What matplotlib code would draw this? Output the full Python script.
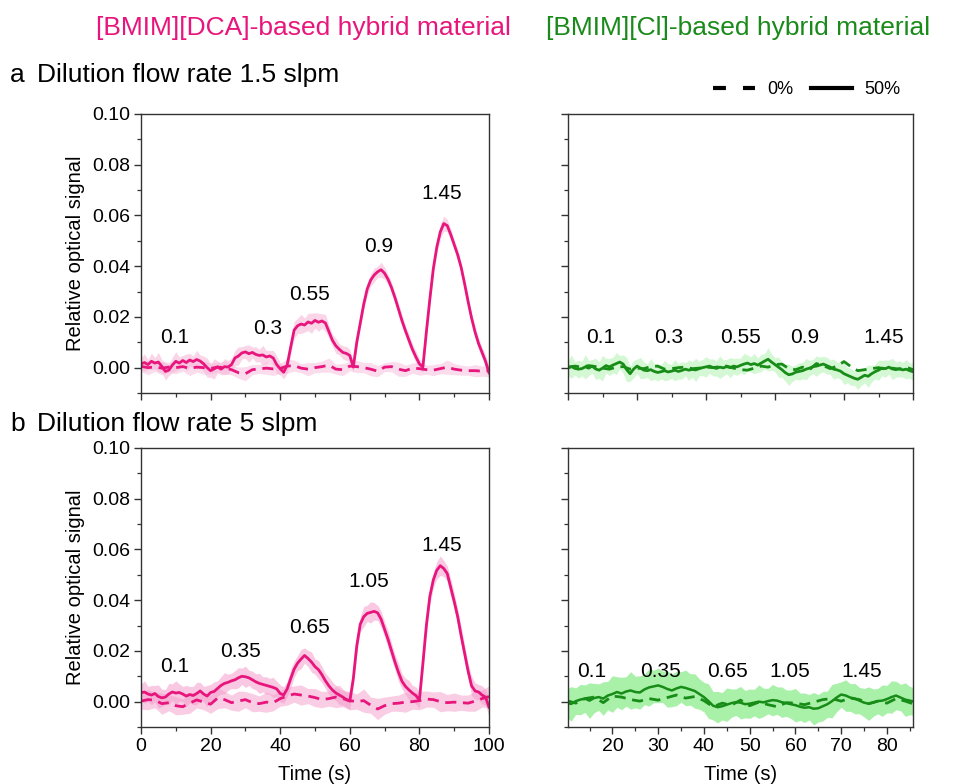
import matplotlib
matplotlib.use("Agg")
import matplotlib.pyplot as plt
from matplotlib.lines import Line2D
from matplotlib.ticker import MultipleLocator, FormatStrFormatter
import numpy as np

plt.rcParams['font.family'] = ['Liberation Sans', 'DejaVu Sans']

# signals in units of 1e-3 (relative optical signal)
# a: dilution 1.5 slpm, [BMIM][DCA], 50% humidity, t = 0..100 s every 1 s
a_dca_50 = [1.5, 2.0, 1.2, 2.5, 1.8, 2.2, 0.5, -1.5, -1.0, 1.0,
            2.5, 1.8, 2.8, 2.0, 3.0, 2.4, 3.2, 2.6, 1.5, 0.0,
            -1.2, -0.5, 0.3, -0.6, 0.4, 0.2, 1.2, 3.8, 4.6, 5.8,
            6.2, 5.5, 6.0, 5.2, 4.8, 5.0, 4.2, 4.6, 3.8, 1.2,
            -0.5, -1.8, 1.0, 8.0, 14.8, 16.5, 17.2, 16.8, 18.0, 17.5,
            18.6, 17.9, 18.4, 17.6, 14.2, 10.8, 8.6, 7.2, 6.0, 5.6,
            4.8, 0.2, 10.0, 17.5, 25.0, 31.0, 34.5, 36.5, 37.8, 38.6,
            37.2, 34.8, 31.5, 27.5, 23.0, 18.5, 14.5, 10.8, 7.2, 4.2,
            1.5, 0.2, 14.0, 27.0, 39.0, 47.5, 53.5, 56.8, 56.0, 52.5,
            48.5, 44.5, 39.5, 33.0, 26.0, 19.5, 14.0, 9.5, 6.0, 2.5,
            -2.0]
a_dca_50_sd = [2.4, 3.4, 2.0, 3.2, 2.2, 3.8, 2.6, 3.4, 2.2, 3.0,
               3.8, 2.4, 2.0, 3.4, 2.6, 2.2, 3.6, 2.4, 3.0, 3.8,
               2.6, 4.0, 2.4, 2.2, 3.2, 2.6, 2.4, 3.0, 3.6, 2.4,
               2.6, 3.4, 2.2, 3.0, 2.4, 3.8, 2.6, 2.2, 3.0, 3.4,
               2.4, 2.6, 3.2, 2.8, 3.4, 3.0, 3.8, 2.8, 3.4, 4.0,
               3.0, 3.6, 2.8, 3.4, 2.6, 2.4, 3.0, 2.2, 2.6, 2.8,
               2.4, 2.2, 2.4, 2.0, 2.2, 2.6, 2.4, 2.8, 2.2, 3.0,
               2.4, 2.0, 2.2, 2.0, 2.4, 2.2, 2.0, 2.6, 2.2, 2.4,
               2.0, 2.2, 2.0, 2.4, 2.2, 2.6, 2.8, 3.0, 2.4, 2.2,
               2.0, 2.2, 1.8, 2.0, 2.2, 2.0, 2.4, 2.2, 2.0, 2.6,
               2.4]
# 0% humidity, t = 0..100 s every 2 s
a_dca_0 = [0.5, 0.0, 0.3, -0.2, 0.2, 0.0, 0.4, -0.3, 0.2, 0.0,
           -0.3, 0.2, 0.0, -0.8, -2.0, -2.4, -0.8, -0.5, -0.2, -0.5,
           -0.3, 0.6, 0.8, -0.2, -0.6, 0.0, 0.4, 1.0, -0.6, -0.8,
           0.6, 0.4, 0.0, -0.6, -1.4, 0.2, 0.4, -0.6, -1.2, -0.2,
           -0.4, -0.8, -1.0, -0.4, 0.2, -0.6, -1.0, -1.2, -1.2, -1.4,
           -1.2]
a_dca_0_sd = [2.0, 2.8, 1.8, 2.6, 2.0, 2.4, 1.8, 2.8, 2.0, 2.6,
              2.2, 1.8, 2.6, 2.0, 2.2, 2.8, 2.0, 1.8, 2.4, 2.6,
              2.0, 2.8, 2.2, 1.8, 2.6, 2.0, 2.2, 2.8, 2.0, 2.4,
              1.8, 2.4, 2.0, 2.6, 2.2, 1.8, 2.0, 2.8, 2.2, 2.0,
              2.6, 1.8, 2.2, 2.0, 2.8, 2.2, 2.0, 1.8, 2.4, 2.0,
              2.4]

# b: dilution 5 slpm, [BMIM][DCA]
b_dca_50 = [3.5, 3.8, 3.0, 2.6, 3.2, 2.0, 1.5, 1.8, 3.0, 3.8,
            3.4, 3.6, 3.0, 2.2, 2.8, 2.4, 3.2, 4.2, 3.0, 2.2,
            3.6, 4.0, 5.2, 6.4, 7.2, 7.6, 8.2, 8.6, 9.4, 10.0,
            9.8, 9.4, 8.6, 7.8, 7.2, 6.8, 6.4, 6.0, 5.6, 5.0,
            3.2, 2.6, 5.0, 9.0, 12.8, 15.2, 16.8, 18.2, 17.0, 15.6,
            13.8, 12.6, 10.6, 8.2, 6.2, 4.6, 3.4, 2.6, 1.8, 0.8,
            0.2, 9.0, 22.0, 30.5, 33.5, 34.8, 35.2, 35.6, 35.0, 32.5,
            28.5, 24.5, 20.0, 15.5, 11.5, 8.0, 6.0, 4.6, 3.4, 2.4,
            0.6, 15.0, 30.0, 41.5, 48.0, 51.8, 53.6, 52.5, 50.5, 45.0,
            39.5, 33.5, 26.0, 19.0, 12.0, 6.2, 4.2, 3.8, 2.6, 1.8,
            -2.2]
b_dca_50_sd = [3.4, 4.4, 3.0, 3.8, 3.2, 4.6, 3.4, 3.0, 4.2, 3.2,
               4.8, 3.4, 3.0, 4.2, 3.2, 3.6, 4.4, 3.4, 3.0, 4.2,
               3.2, 3.8, 3.0, 3.4, 4.2, 3.2, 3.0, 3.6, 4.0, 3.2,
               4.2, 3.0, 3.4, 3.2, 4.0, 3.0, 3.4, 3.2, 4.0, 3.0,
               3.4, 3.2, 3.0, 3.6, 3.2, 3.0, 3.8, 3.0, 3.2, 4.0,
               3.0, 3.6, 3.2, 3.0, 3.4, 3.2, 3.0, 3.8, 3.2, 3.0,
               3.4, 3.0, 3.2, 3.0, 4.0, 3.2, 4.2, 3.4, 3.0, 3.2,
               3.0, 3.4, 3.2, 3.0, 3.6, 3.0, 3.2, 3.8, 3.0, 3.4,
               3.2, 3.0, 3.4, 3.2, 3.0, 3.4, 3.8, 3.2, 3.0, 3.4,
               3.2, 3.0, 3.6, 3.2, 3.0, 3.8, 3.2, 3.0, 3.6, 3.2,
               3.6]
b_dca_0 = [0.2, 0.8, 0.6, -0.8, -0.4, -1.6, -2.0, -0.6, 0.7, -0.2,
           -1.0, 1.4, 0.8, -0.4, 0.2, 0.8, -0.4, -0.8, -0.2, -0.4,
           1.2, 2.2, 3.0, 2.6, 2.2, 1.6, 0.8, 1.2, 1.8, 1.2,
           0.4, 0.0, 0.4, -1.4, -2.9, -1.6, -0.8, -0.6, -0.2, 0.0,
           0.4, 1.0, 0.8, 0.0, -0.4, -0.2, -0.4, -0.6, 0.2, 1.2,
           2.0]
b_dca_0_sd = [3.2, 4.0, 3.0, 4.2, 3.2, 3.6, 3.0, 4.0, 3.2, 3.0,
              3.6, 4.2, 3.2, 3.0, 4.0, 3.2, 3.6, 3.0, 4.0, 3.2,
              3.0, 3.6, 3.2, 4.0, 3.0, 3.6, 3.2, 3.0, 4.2, 3.2,
              3.6, 3.0, 4.6, 3.2, 4.2, 3.4, 3.0, 3.2, 4.0, 3.0,
              3.6, 3.2, 3.0, 4.0, 3.2, 3.6, 3.0, 3.2, 4.0, 3.4,
              4.2]

# a: [BMIM][Cl], t = 0..100 s
a_cl_50 = [-0.2, 0.4, -0.3, -0.6, -0.4, 0.3, -0.2, 0.6, -0.5, -1.0,
           -0.2, 0.8, 0.3, 1.0, 1.6, 2.2, 1.4, -0.8, -2.4, -0.6,
           0.6, -0.2, -1.0, -1.2, -0.8, -1.5, -1.9, -1.6, -1.2, -1.7,
           -1.4, -1.0, -1.5, -1.1, -0.6, -1.0, -0.7, -0.9, -0.4, 0.0,
           0.3, 0.6, 0.1, -0.3, 0.2, -0.1, 0.4, 0.0, 0.6, 0.3,
           0.9, 1.4, 1.8, 1.2, 1.6, 1.0, 1.8, 2.6, 3.3, 2.2,
           1.2, 0.2, -0.8, -2.0, -2.8, -2.5, -1.8, -1.5, -1.2, -0.6,
           -0.2, 0.4, 0.6, 1.0, 1.4, 0.8, 0.2, -0.6, -0.9, -1.4,
           -2.4, -3.0, -3.6, -4.2, -4.6, -3.8, -3.0, -3.4, -2.4, -1.6,
           -1.0, -0.2, -0.4, 0.2, -0.5, -0.8, -0.4, -0.9, -0.6, -1.2,
           -1.6]
a_cl_50_sd = [3.0, 4.6, 2.6, 3.6, 2.8, 4.8, 3.0, 2.6, 4.2, 3.2,
              5.0, 2.8, 3.4, 3.0, 4.4, 2.6, 3.6, 4.8, 3.0, 3.4,
              2.8, 4.2, 3.2, 2.6, 4.4, 3.0, 3.4, 2.8, 4.0, 3.2,
              2.8, 4.2, 3.0, 3.4, 2.6, 4.0, 3.0, 4.6, 2.8, 3.2,
              4.0, 2.8, 3.4, 3.0, 4.4, 3.2, 2.8, 4.0, 3.0, 3.4,
              2.8, 4.2, 3.2, 3.0, 4.0, 2.8, 3.4, 3.0, 4.6, 3.2,
              2.8, 4.0, 3.0, 3.4, 4.2, 3.0, 2.8, 3.4, 3.2, 4.2,
              3.0, 2.8, 4.0, 3.2, 3.0, 3.4, 2.8, 4.0, 3.0, 3.2,
              4.2, 3.0, 3.4, 2.8, 4.0, 3.2, 3.0, 4.4, 3.2, 2.8,
              4.0, 3.0, 3.4, 2.8, 4.2, 3.0, 3.2, 2.8, 3.8, 3.0,
              3.6]
a_cl_0 = [0.2, 0.6, 0.2, 0.8, 0.4, -0.2, -0.6, 0.2, 0.4, -0.6,
          -0.2, -0.4, 0.4, 0.6, -0.6, -0.4, 0.0, 0.2, -0.4, -0.2,
          0.2, 0.0, 0.4, 0.6, -0.2, -0.8, -1.0, -0.2, 0.6, 0.2,
          1.2, 1.4, -0.4, -0.8, 0.2, -0.8, 1.6, 0.8, -0.4, 0.6,
          2.4, 0.4, -1.2, -0.8, -0.4, 0.0, -0.6, -0.2, -0.6, 0.2,
          -0.8]

# b: [BMIM][Cl], t = 10..86 s
b_cl_50 = [-0.6, -0.9, 0.2, 0.8, 1.2, 0.4, 1.4, 1.8, 1.2, 2.4,
           3.0, 3.8, 3.2, 4.0, 4.4, 3.8, 3.6, 4.8, 5.6, 6.0,
           6.4, 5.8, 5.0, 4.4, 5.2, 5.8, 5.4, 4.8, 4.2, 3.0,
           1.8, 0.2, -1.6, -2.2, -1.8, -1.2, -0.6, -0.2, -0.4, -1.0,
           -0.8, -0.4, 0.0, -0.3, 0.2, 0.6, 0.4, -0.2, -0.6, -1.0,
           -1.4, -2.0, -2.4, -2.2, -2.8, -2.6, -1.8, -1.0, 0.2, 1.6,
           2.8, 2.4, 1.6, 1.2, 0.4, -0.4, -0.8, -0.4, 0.2, 0.4,
           1.0, 1.8, 2.4, 1.6, 0.8, 0.4, 0.0]
b_cl_50_sd = [5.6, 6.8, 5.2, 6.0, 5.4, 7.0, 5.8, 5.2, 6.6, 5.6,
              7.2, 6.0, 6.4, 5.8, 7.4, 6.2, 6.6, 6.0, 7.4, 6.4,
              6.8, 6.2, 7.2, 6.4, 6.8, 6.0, 7.0, 6.2, 6.8, 6.0,
              5.8, 6.8, 5.6, 6.2, 5.4, 6.6, 5.6, 5.2, 6.4, 5.4,
              5.8, 5.2, 6.6, 5.6, 5.0, 6.2, 5.4, 6.0, 5.2, 5.6,
              6.6, 5.4, 5.8, 5.0, 6.4, 5.4, 5.8, 5.2, 6.6, 5.6,
              5.0, 6.2, 5.4, 6.0, 5.2, 5.6, 6.6, 5.4, 5.0, 6.2,
              5.4, 6.4, 5.6, 5.2, 6.6, 5.6, 5.4]
b_cl_0 = [0.4, -0.6, 1.2, 1.8, -0.4, 2.2, 1.8, 0.8, 0.2, 1.2,
          0.6, 1.6, 2.6, 1.4, 2.0, 0.4, -2.0, -0.6, -1.4, 0.6,
          -1.6, -0.2, -1.2, -2.0, -0.4, -0.6, -1.2, -0.2, 0.8, 1.2,
          0.2, 1.4, 0.8, -0.8, 0.2, -0.6, 1.2, 0.2, -1.0]

t_a_50 = np.arange(0, 101, 1)
t_a_0 = np.arange(0, 101, 2)
t_bcl_50 = np.arange(10, 87, 1)
t_bcl_0 = np.arange(10, 87, 2)

# concentration labels (text centre: time, signal x1e-3)
pct_dca_a = ['0.1', '0.3', '0.55', '0.9', '1.45']
pos_dca_a = [(9.8, 11.8), (36.5, 15.4), (48.3, 28.7), (68.4, 47.6), (86.5, 68.5)]
pct_dca_b = ['0.1', '0.35', '0.65', '1.05', '1.45']
pos_dca_b = [(9.8, 13.8), (28.7, 19.7), (48.3, 29.1), (65.5, 47.2), (86.5, 61.4)]
pct_cl_a = ['0.1', '0.3', '0.55', '0.9', '1.45']
pos_cl_a = [(9.6, 11.8), (29.3, 11.8), (50.1, 11.8), (68.7, 11.8), (91.6, 11.8)]
pct_cl_b = ['0.1', '0.35', '0.65', '1.05', '1.45']
pos_cl_b = [(15.5, 11.8), (30.6, 11.8), (45.2, 11.8), (58.8, 11.8), (74.5, 11.8)]

PINK = '#E8157C'
GREEN = '#178C17'
DASH = (0, (4.0, 2.4))

fig = plt.figure(figsize=(9.72, 7.84), dpi=100)
W, H = 972.0, 784.0

def make_ax(x0, x1, y0, y1):
    return fig.add_axes([x0 / W, 1 - y1 / H, (x1 - x0) / W, (y1 - y0) / H])

ax_a1 = make_ax(141, 489, 114, 393)
ax_a2 = make_ax(568, 913, 114, 393)
ax_b1 = make_ax(141, 489, 448, 727)
ax_b2 = make_ax(568, 913, 448, 727)

def band(ax, t, y, sd, color, alpha):
    y = np.array(y) * 1e-3
    sd = np.array(sd) * 1e-3
    ax.fill_between(t, y - sd, y + sd, color=color, alpha=alpha, lw=0)

def style(ax, xlim, xmaj, xmin, xlabels, ylabels):
    ax.set_xlim(*xlim)
    ax.set_ylim(-0.01, 0.10)
    ax.xaxis.set_major_locator(MultipleLocator(xmaj))
    ax.xaxis.set_minor_locator(MultipleLocator(xmin))
    ax.yaxis.set_major_locator(MultipleLocator(0.02))
    ax.yaxis.set_minor_locator(MultipleLocator(0.01))
    ax.yaxis.set_major_formatter(FormatStrFormatter('%.2f'))
    ax.tick_params(which='both', direction='out', top=False, right=False,
                   labelsize=14, colors='#333333', labelcolor='black')
    ax.tick_params(which='major', length=5, width=1, pad=3)
    ax.tick_params(which='minor', length=3, width=0.9)
    if not xlabels:
        ax.tick_params(axis='x', labelbottom=False)
    else:
        ax.set_xlabel('Time (s)', fontsize=14.5, labelpad=7)
    if not ylabels:
        ax.tick_params(axis='y', labelleft=False)
    else:
        ax.set_ylabel('Relative optical signal', fontsize=14.5, labelpad=5)
    for s in ax.spines.values():
        s.set_color('#333333')
        s.set_linewidth(1.0)

def labels(ax, txts, pos):
    for s, (x, y) in zip(txts, pos):
        ax.text(x, y * 1e-3, s, ha='center', va='center', fontsize=15)

# a, DCA
band(ax_a1, t_a_0, a_dca_0, a_dca_0_sd, '#F6B3D6', 0.45)
band(ax_a1, t_a_50, a_dca_50, a_dca_50_sd, '#F6B3D6', 0.55)
ax_a1.plot(t_a_0, np.array(a_dca_0) * 1e-3, color=PINK, lw=2.0, ls=DASH)
ax_a1.plot(t_a_50, np.array(a_dca_50) * 1e-3, color=PINK, lw=2.0)
labels(ax_a1, pct_dca_a, pos_dca_a)
style(ax_a1, (0, 100), 20, 10, False, True)

# b, DCA
band(ax_b1, t_a_0, b_dca_0, b_dca_0_sd, '#F59CCB', 0.5)
band(ax_b1, t_a_50, b_dca_50, b_dca_50_sd, '#F59CCB', 0.55)
ax_b1.plot(t_a_0, np.array(b_dca_0) * 1e-3, color=PINK, lw=2.0, ls=DASH)
ax_b1.plot(t_a_50, np.array(b_dca_50) * 1e-3, color=PINK, lw=2.0)
labels(ax_b1, pct_dca_b, pos_dca_b)
style(ax_b1, (0, 100), 20, 10, True, True)

# a, Cl
band(ax_a2, t_a_50, a_cl_50, a_cl_50_sd, '#B8F2B8', 0.6)
ax_a2.plot(t_a_0, np.array(a_cl_0) * 1e-3, color=GREEN, lw=2.0, ls=DASH)
ax_a2.plot(t_a_50, np.array(a_cl_50) * 1e-3, color=GREEN, lw=2.0)
labels(ax_a2, pct_cl_a, pos_cl_a)
style(ax_a2, (0, 100), 20, 10, False, False)

# b, Cl
band(ax_b2, t_bcl_50, b_cl_50, b_cl_50_sd, '#8DEB8D', 0.75)
ax_b2.plot(t_bcl_50, np.array(b_cl_50) * 1e-3, color=GREEN, lw=1.8)
ax_b2.plot(t_bcl_0, np.array(b_cl_0) * 1e-3, color=GREEN, lw=2.0, ls=DASH)
labels(ax_b2, pct_cl_b, pos_cl_b)
style(ax_b2, (10.3, 85.7), 10, 5, True, False)

# headers
fig.text(303 / W, 1 - 28 / H, '[BMIM][DCA]-based hybrid material', color='#E8157C',
         fontsize=19, ha='center', va='center')
fig.text(738 / W, 1 - 28 / H, '[BMIM][Cl]-based hybrid material', color='#1A8A1A',
         fontsize=19, ha='center', va='center')
fig.text(10 / W, 1 - 75 / H, 'a', fontsize=19, ha='left', va='center')
fig.text(37 / W, 1 - 75 / H, 'Dilution flow rate 1.5 slpm', fontsize=19, ha='left', va='center')
fig.text(10 / W, 1 - 424 / H, 'b', fontsize=19, ha='left', va='center')
fig.text(37 / W, 1 - 424 / H, 'Dilution flow rate 5 slpm', fontsize=19, ha='left', va='center')

handles = [Line2D([], [], color='black', lw=3, ls=(0, (3.1, 4.1))),
           Line2D([], [], color='black', lw=3)]
fig.legend(handles, ['0%', '50%'], ncol=2, frameon=False, fontsize=13,
           loc='center', bbox_to_anchor=(807 / W, 1 - 90 / H),
           handlelength=2.3, columnspacing=0.95, handletextpad=0.7)

fig.savefig('out.png', dpi=100, facecolor='white')
